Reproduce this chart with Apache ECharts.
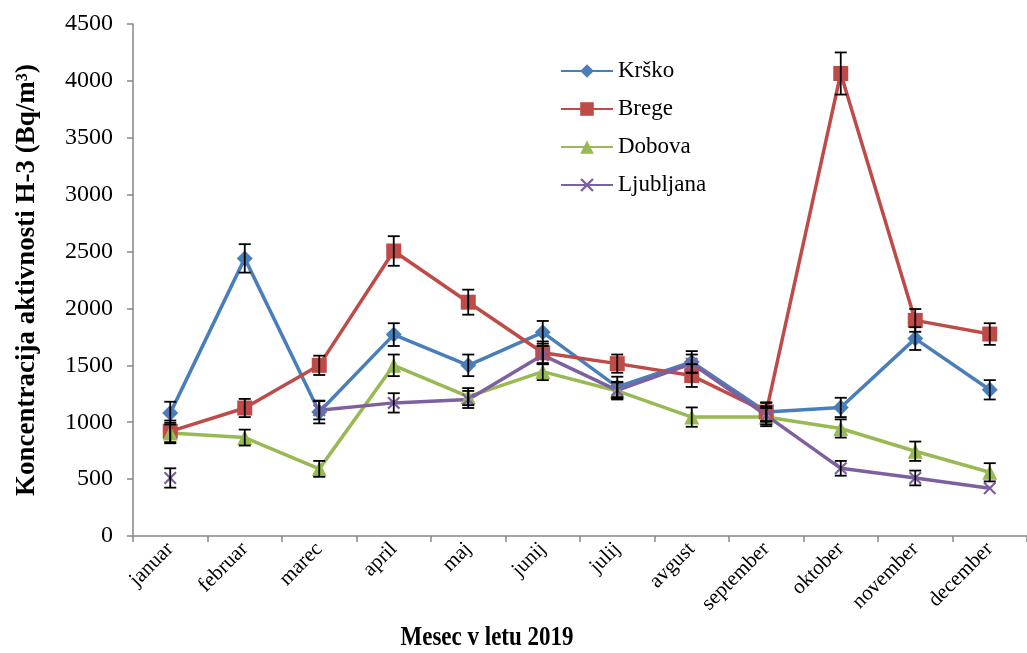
<!DOCTYPE html>
<html><head><meta charset="utf-8">
<script src="https://cdn.jsdelivr.net/npm/echarts@6/dist/echarts.min.js"></script>
<style>html,body{margin:0;padding:0;background:#fff}#c{width:1027px;height:653px}</style>
</head><body><div id="c"></div>
<script>
const months = ['januar','februar','marec','april','maj','junij','julij','avgust','september','oktober','november','december'];
const yTicks = [0, 500, 1000, 1500, 2000, 2500, 3000, 3500, 4000, 4500];
const krsko = [1080, 2440, 1090, 1770, 1500, 1790, 1310, 1530, 1090, 1130, 1735, 1285];
const krskoErr = [100, 125, 100, 100, 95, 100, 90, 95, 80, 85, 100, 85];
const brege = [920, 1125, 1500, 2505, 2055, 1610, 1515, 1410, 1090, 4065, 1895, 1775];
const bregeErr = [95, 80, 85, 130, 110, 100, 80, 100, 85, 185, 100, 95];
const dobova = [905, 865, 590, 1500, 1225, 1445, 1275, 1045, 1045, 945, 745, 560];
const dobovaErr = [90, 70, 70, 95, 75, 75, 75, 85, 80, 80, 85, 80];
const ljubljana = [510, null, 1105, 1170, 1200, 1590, 1280, 1515, 1060, 595, 510, 420];
const ljubljanaErr = [85, 0, 80, 85, 75, 80, 75, 80, 80, 65, 65, 0];

const FONT = 'Liberation Serif';
const xShape = 'path://M0,1.2 L1.2,0 L5,3.8 L8.8,0 L10,1.2 L6.2,5 L10,8.8 L8.8,10 L5,6.2 L1.2,10 L0,8.8 L3.8,5 Z';

const chart = echarts.init(document.getElementById('c'));

function errData(vals, errs) {
  const out = [];
  vals.forEach((v, i) => { if (v != null && errs[i] > 0) out.push([i, v, errs[i]]); });
  return out;
}
function errSeries(vals, errs) {
  return {
    type: 'custom', z: 10, silent: true,
    encode: { x: 0, y: 1 },
    data: errData(vals, errs),
    renderItem: function (params, api) {
      const i = api.value(0), v = api.value(1), e = api.value(2);
      const top = api.coord([i, v + e]);
      const bot = api.coord([i, v - e]);
      const hw = 6;
      const st = { stroke: '#000', lineWidth: 1.8 };
      return { type: 'group', children: [
        { type: 'line', shape: { x1: top[0], y1: top[1], x2: bot[0], y2: bot[1] }, style: st },
        { type: 'line', shape: { x1: top[0] - hw, y1: top[1], x2: top[0] + hw, y2: top[1] }, style: st },
        { type: 'line', shape: { x1: bot[0] - hw, y1: bot[1], x2: bot[0] + hw, y2: bot[1] }, style: st }
      ]};
    }
  };
}
function lineSeries(name, data, color, symbol, size) {
  return {
    name: name, type: 'line', data: data, connectNulls: false,
    symbol: symbol, symbolSize: size, showSymbol: true,
    lineStyle: { color: color, width: 3.5 },
    itemStyle: { color: color },
    z: 3
  };
}

chart.setOption({
  animation: false,
  backgroundColor: '#fff',
  grid: { left: 133, top: 24, height: 512, width: 906 },
  legend: {
    orient: 'vertical', left: 560, top: 58, padding: 0,
    itemWidth: 52, itemHeight: 17, itemGap: 12,
    textStyle: { fontFamily: FONT, fontSize: 23, color: '#000', lineHeight: 26 },
    data: ['Krško', 'Brege', 'Dobova', 'Ljubljana']
  },
  xAxis: {
    type: 'category', data: months, boundaryGap: true,
    axisLine: { lineStyle: { color: '#868686', width: 1.5 } },
    axisTick: { show: true, alignWithLabel: false, length: 6, lineStyle: { color: '#868686', width: 1.5 } },
    axisLabel: { rotate: 45, color: '#000', fontFamily: FONT, fontSize: 21, margin: 10, interval: 0 }
  },
  yAxis: {
    type: 'value', min: yTicks[0], max: yTicks[yTicks.length - 1], interval: 500,
    splitLine: { show: false },
    axisLine: { show: true, lineStyle: { color: '#868686', width: 1.5 } },
    axisTick: { show: true, inside: false, length: 6, lineStyle: { color: '#868686', width: 1.5 } },
    axisLabel: { color: '#000', fontFamily: FONT, fontSize: 24, margin: 20, formatter: v => String(v) }
  },
  graphic: [{
    type: 'text', x: 27, y: 280, rotation: Math.PI / 2,
    style: { text: 'Koncentracija aktivnosti H-3 (Bq/m³)', font: 'bold 27px "Liberation Serif"', fill: '#000', align: 'center', verticalAlign: 'middle' }
  }, {
    type: 'text', x: 487, y: 638, scaleY: 1.15,
    style: { text: 'Mesec v letu 2019', font: 'bold 23px "Liberation Serif"', fill: '#000', align: 'center', verticalAlign: 'middle' }
  }],
  series: [
    lineSeries('Krško', krsko, '#4A7EBB', 'diamond', 16),
    lineSeries('Brege', brege, '#BE4B48', 'rect', 15),
    lineSeries('Dobova', dobova, '#98B954', 'triangle', 15),
    lineSeries('Ljubljana', ljubljana, '#7D60A0', xShape, 13),
    errSeries(krsko, krskoErr),
    errSeries(brege, bregeErr),
    errSeries(dobova, dobovaErr),
    errSeries(ljubljana, ljubljanaErr)
  ]
});
</script></body></html>
